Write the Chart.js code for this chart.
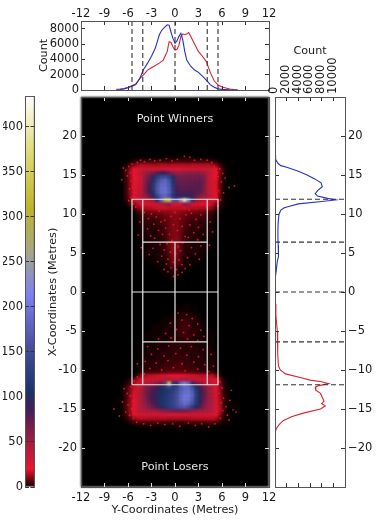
<!DOCTYPE html>
<html>
<head>
<meta charset="utf-8">
<title>Point winners and losers</title>
<script src="https://cdn.jsdelivr.net/npm/chart.js@4"></script>
<style>
  html, body { margin: 0; background: #fff; }
  #wrap { position: relative; width: 380px; height: 520px; overflow: hidden; filter: blur(0.3px); }
  canvas { position: absolute; left: 0; top: 0; }
  #heat { filter: blur(1px); }
</style>
</head>
<body>
<div id="wrap">
  <canvas id="colorbar" width="380" height="520"></canvas>
  <canvas id="topHist" width="380" height="520"></canvas>
  <canvas id="sideHist" width="380" height="520"></canvas>
  <canvas id="heat" width="380" height="520"></canvas>
  <canvas id="main" width="380" height="520"></canvas>
</div>
<script>
// tick values
const courtWidthTicks = [-12,-9,-6,-3,0,3,6,9,12];
const courtLengthTicks = [-20,-15,-10,-5,0,5,10,15,20];
const topCountTicks = [0,2000,4000,6000,8000];
const sideCountTicks = [0,2000,4000,6000,8000,10000];
const cbarTicks = [0,50,100,150,200,250,300,350,400];

// top histogram: count along the Y coordinate
const topBlueX = [-7.5,-7,-6.5,-6,-5.5,-5,-4.5,-4,-3.5,-3,-2.5,-2,-1.75,-1.5,-1,-0.75,-0.5,-0.25,0,0.25,0.5,0.75,1,1.25,1.5,2,2.5,3,3.5,4,4.5,5,5.5,6,7,8];
const topBlueCount = [0,60,150,300,500,700,1500,2700,3500,4400,5500,7200,7700,8000,8500,8450,7500,6700,6100,6400,7000,7400,6500,5000,3900,3100,2600,2300,1800,1300,700,350,150,80,20,0];
const topRedX = [-7.5,-7,-6.5,-6,-5.5,-5,-4.5,-4,-3.5,-3,-2.5,-2,-1.5,-1,-0.75,-0.5,-0.25,0,0.25,0.5,0.75,1,1.25,1.5,1.75,2,2.5,3,3.5,4,4.5,5,5.5,6,6.5,7,7.5,8];
const topRedCount = [100,130,200,350,550,800,1500,2000,2600,2900,3200,3500,3900,5000,6300,6200,5600,5200,5300,5800,7000,7300,7250,7300,7500,7000,6000,5000,4400,3700,2300,1200,650,400,250,120,60,20];

// side histogram: count along the X coordinate
const sideBlueY = [17.5,17,16.5,16.2,16,15.5,15,14.5,14,13.5,13,12.6,12.3,12,11.8,11.6,11.3,11,10.8,10.5,10,9,8,7,6,5,4.5,4,3,2,1.5];
const sideBlueCount = [0,100,500,1000,2000,3900,5500,6800,7900,8100,7300,6900,7300,9000,10400,8000,4000,2500,1600,1000,700,550,500,500,550,600,580,400,250,80,0];
const sideRedY = [-1.5,-3,-5,-6,-8,-9.5,-10,-10.5,-11,-11.3,-11.5,-11.75,-12,-12.2,-12.6,-13,-13.5,-14,-14.3,-14.6,-15,-15.5,-16,-16.5,-17,-17.5,-18];
const sideRedCount = [0,150,400,450,480,600,900,1800,4500,6000,8000,9200,7500,6900,7000,7800,8100,8400,8000,8600,7800,5000,2800,1400,700,250,0];

// court line positions in metres
const sidelineDoubles = 5.49;
const sidelineSingles = 4.115;
const baseline = 11.89;
const serviceLine = 6.4;

// dashed marks on the histograms
const topDashes = [-5.49,-4.115,0,4.115,5.49];
const sideDashes = [11.89,6.4,0,-6.4,-11.89];

// density grid: columns are Y coordinates, rows are X coordinates
const heatCols = [-7.75,-7.25,-6.75,-6.25,-5.75,-5.25,-4.75,-4.25,-3.75,-3.25,-2.75,-2.25,-1.75,-1.25,-0.75,-0.25,0.25,0.75,1.25,1.75,2.25,2.75,3.25,3.75,4.25,4.75,5.25,5.75,6.25,6.75,7.25,7.75];
const heatRows = [17.25,16.75,16.25,15.75,15.25,14.75,14.25,13.75,13.25,12.75,12.25,11.75,11.25,10.75,10.25,9.75,9.25,8.75,8.25,7.75,7.25,6.75,6.25,5.75,5.25,4.75,4.25,3.75,3.25,2.75,2.25,1.75,1.25,0.75,0.25,-0.25,-0.75,-1.25,-1.75,-2.25,-2.75,-3.25,-3.75,-4.25,-4.75,-5.25,-5.75,-6.25,-6.75,-7.25,-7.75,-8.25,-8.75,-9.25,-9.75,-10.25,-10.75,-11.25,-11.75,-12.25,-12.75,-13.25,-13.75,-14.25,-14.75,-15.25,-15.75,-16.25,-16.75,-17.25,-17.75];
const heatValues = [
  [0,0,0,0,0,0,0,0,0,0,0,0,0,1,1,1,0,1,2,2,1,0,0,0,0,0,0,0,0,0,0,0],
  [0,0,0,0,1,3,4,5,5,5,5,5,5,5,4,5,5,5,5,5,5,5,5,5,5,4,3,1,0,0,1,0],
  [0,0,0,1,6,10,14,16,15,15,14,14,15,15,14,15,15,15,15,15,16,16,16,16,16,14,10,5,1,0,0,0],
  [0,0,1,4,11,20,28,32,30,29,28,29,30,30,29,29,29,29,30,30,30,30,30,30,32,28,20,9,3,0,0,0],
  [0,0,1,5,12,22,28,40,52,60,64,80,88,88,74,62,58,58,58,58,58,58,58,56,42,30,21,9,2,1,0,0],
  [0,0,1,4,12,22,27,36,58,70,95,125,145,150,130,95,72,68,68,68,68,68,68,62,40,28,20,8,1,0,0,0],
  [0,0,1,4,11,21,26,36,62,78,110,150,175,185,160,110,75,72,72,72,72,72,72,64,38,26,19,8,1,0,0,0],
  [0,0,0,4,11,20,26,36,64,82,120,165,190,190,170,120,80,74,74,74,74,76,76,62,38,25,18,8,1,0,0,0],
  [0,0,0,4,11,20,26,36,64,84,125,170,195,200,175,125,82,76,76,76,76,76,76,62,38,25,19,8,1,0,0,0],
  [0,0,0,4,11,21,28,38,64,84,115,165,195,200,178,130,88,82,82,82,82,78,74,58,38,27,20,8,1,0,0,0],
  [0,0,0,4,11,21,30,38,52,70,95,140,175,185,160,120,95,95,95,95,82,68,56,46,36,28,20,8,1,0,0,0],
  [0,0,0,3,8,18,26,32,34,38,52,110,180,300,340,170,160,240,400,220,120,56,42,36,32,26,18,7,1,0,0,0],
  [0,0,0,1,5,11,16,20,22,24,26,30,38,52,60,32,26,32,60,48,28,24,22,22,20,16,11,4,1,0,0,0],
  [0,0,0,0,1,5,10,14,15,16,17,18,18,18,16,16,16,16,18,16,16,16,15,15,14,11,6,2,0,0,0,0],
  [0,0,0,0,0,1,4,7,8,9,9,10,10,11,11,12,12,11,10,9,9,9,8,7,6,5,2,1,0,0,0,0],
  [0,0,0,0,0,0,2,4,5,6,6,7,7,8,9,10,10,9,8,7,6,6,6,5,4,3,1,0,0,0,0,0],
  [0,0,0,0,0,0,1,3,4,4,4,5,6,7,8,10,10,8,7,6,5,5,4,4,3,2,1,0,0,0,0,0],
  [0,0,0,0,0,0,1,3,3,4,3,4,5,6,8,10,10,8,6,5,4,4,3,3,3,2,0,0,0,0,0,0],
  [0,0,0,0,0,0,1,2,3,3,3,3,4,5,8,10,10,8,5,4,3,4,3,3,2,1,0,0,0,0,0,0],
  [0,0,0,0,0,0,1,2,2,3,2,3,4,5,8,10,10,8,5,4,3,3,3,2,2,1,0,0,0,0,0,0],
  [0,0,0,0,0,0,0,2,2,3,2,3,3,5,8,10,10,8,4,3,3,3,2,2,2,1,0,0,0,0,0,0],
  [0,0,0,0,0,0,0,1,2,2,2,2,3,4,8,10,11,8,4,3,2,3,2,2,1,0,0,0,0,0,0,0],
  [0,0,0,0,0,0,0,1,2,2,2,2,3,4,8,11,11,7,3,3,2,2,2,2,1,0,0,0,0,0,0,0],
  [0,0,0,0,0,0,0,1,1,2,2,2,3,4,8,11,11,7,3,3,2,2,2,1,1,0,0,0,0,0,0,0],
  [0,0,0,0,0,0,0,1,1,2,1,2,2,4,7,11,10,6,3,2,2,2,2,1,1,0,0,0,0,0,0,0],
  [0,0,0,0,0,0,0,0,1,1,1,2,2,3,6,10,9,5,3,2,2,2,1,1,0,0,0,0,0,0,0,0],
  [0,0,0,0,0,0,0,0,1,1,1,1,2,3,5,9,8,5,2,2,1,1,1,0,0,0,0,0,0,0,0,0],
  [0,0,0,0,0,0,0,0,0,1,1,1,1,2,5,8,7,4,2,1,1,1,0,0,0,0,0,0,0,0,0,0],
  [0,0,0,0,0,0,0,0,0,0,0,1,1,2,4,5,5,3,2,1,1,0,0,0,0,0,0,0,0,0,0,0],
  [0,0,0,0,0,0,0,0,0,0,0,0,1,1,2,3,3,2,1,0,0,0,0,0,0,0,0,0,0,0,0,0],
  [0,0,0,0,0,0,0,0,0,0,0,0,0,1,1,2,2,1,0,0,0,0,0,0,0,0,0,0,0,0,0,0],
  [0,0,0,0,0,0,0,0,0,0,0,0,0,0,1,1,1,0,0,0,0,0,0,0,0,0,0,0,0,0,0,0],
  [0,0,0,0,0,0,0,0,0,0,0,0,0,0,0,0,0,0,0,0,0,0,0,0,0,0,0,0,0,0,0,0],
  [0,0,0,0,0,0,0,0,0,0,0,0,0,0,0,0,0,0,0,0,0,0,0,0,0,0,0,0,0,0,0,0],
  [0,0,0,0,0,0,0,0,0,0,0,0,0,0,0,0,0,0,0,0,0,0,0,0,0,0,0,0,0,0,0,0],
  [0,0,0,0,0,0,0,0,0,0,0,0,0,0,0,0,0,0,0,0,0,0,0,0,0,0,0,0,0,0,0,0],
  [0,0,0,0,0,0,0,0,0,0,0,0,0,0,0,0,0,0,0,0,0,0,0,0,0,0,0,0,0,0,0,0],
  [0,0,0,0,0,0,0,0,0,0,0,0,0,0,0,0,0,0,0,0,0,0,0,0,0,0,0,0,0,0,0,0],
  [0,0,0,0,0,0,0,0,0,0,0,0,0,0,0,0,1,0,1,1,0,0,0,0,0,0,0,0,0,0,0,0],
  [0,0,0,0,0,0,0,0,0,0,0,0,0,0,0,0,1,1,1,1,1,1,0,0,0,0,0,0,0,0,0,0],
  [0,0,0,0,0,0,0,0,0,0,0,0,0,0,0,1,1,2,2,2,1,1,1,0,0,0,0,0,0,0,0,0],
  [0,0,0,0,0,0,0,0,0,0,0,0,0,1,1,1,2,3,3,3,2,2,1,0,0,0,0,0,0,0,0,0],
  [0,0,0,0,0,0,0,0,0,0,0,0,1,1,1,2,3,4,4,4,3,2,1,1,0,0,0,0,0,0,0,0],
  [0,0,0,0,0,0,0,0,0,0,1,1,1,1,2,2,3,4,5,4,3,2,2,1,0,0,0,0,0,0,0,0],
  [0,0,0,0,0,0,0,0,0,0,1,1,1,2,2,2,3,4,5,5,3,3,2,1,1,0,0,0,0,0,0,0],
  [0,0,0,0,0,0,0,0,0,1,1,1,1,2,2,2,3,4,5,4,3,3,2,1,1,0,0,0,0,0,0,0],
  [0,0,0,0,0,0,0,0,1,1,1,1,2,2,2,3,3,4,4,4,3,2,2,1,1,1,0,0,0,0,0,0],
  [0,0,0,0,0,0,0,0,1,1,1,2,2,2,2,3,3,3,3,3,3,2,2,2,1,1,0,0,0,0,0,0],
  [0,0,0,0,0,0,0,1,1,1,2,2,2,2,2,3,3,3,3,3,3,2,2,2,1,1,0,0,0,0,0,0],
  [0,0,0,0,0,0,0,1,1,2,2,2,2,2,3,3,3,3,3,3,3,3,2,2,2,1,0,0,0,0,0,0],
  [0,0,0,0,0,0,0,1,2,2,2,2,3,3,3,3,4,3,3,3,3,3,2,2,2,1,1,0,0,0,0,0],
  [0,0,0,0,0,0,0,1,2,2,2,3,3,3,3,4,4,4,4,3,3,3,3,2,2,1,1,0,0,0,0,0],
  [0,0,0,0,0,0,0,1,2,2,3,3,3,3,4,4,4,4,4,4,3,3,3,2,2,2,1,0,0,0,0,0],
  [0,0,0,0,0,0,0,2,2,3,3,3,3,4,4,4,5,5,4,4,4,3,3,3,2,2,1,0,0,0,0,0],
  [0,0,0,0,0,0,1,2,3,3,3,4,4,5,5,5,5,5,5,5,4,4,3,3,3,2,1,0,0,0,0,0],
  [0,0,0,0,0,0,1,3,4,4,5,5,6,6,7,7,7,7,7,6,6,5,5,4,4,4,2,1,0,0,0,0],
  [0,0,0,0,0,1,5,12,15,17,17,18,19,19,20,20,20,20,20,19,19,18,17,17,16,16,10,3,0,0,0,0],
  [0,0,0,1,3,8,15,24,28,30,30,32,36,40,50,40,36,45,50,40,36,32,30,30,30,28,20,9,2,0,0,0],
  [0,0,0,2,5,12,26,36,38,42,48,58,68,150,350,120,110,190,230,190,110,68,56,46,40,34,22,11,3,0,0,0],
  [0,0,1,4,9,17,30,42,58,68,75,85,98,115,135,125,135,170,190,190,160,110,82,66,48,38,24,12,3,1,0,0],
  [0,0,1,4,10,18,32,44,62,74,84,94,104,112,120,130,150,178,195,200,175,125,90,72,52,40,25,13,3,1,0,0],
  [0,0,1,5,11,20,33,46,62,76,86,96,108,116,125,135,155,185,205,205,185,130,94,72,52,42,26,13,4,1,0,0],
  [0,1,1,5,11,21,33,46,60,76,86,96,110,118,125,135,155,185,205,200,175,125,94,70,52,42,28,14,4,1,0,0],
  [0,1,1,5,12,22,34,46,58,72,82,94,110,118,126,135,155,175,195,185,160,120,90,66,52,44,28,14,4,1,1,0],
  [0,0,1,5,12,23,35,46,54,62,72,84,98,110,122,130,145,158,168,152,125,100,78,60,50,44,30,15,4,1,1,0],
  [0,0,1,5,12,24,36,44,46,48,50,54,58,62,66,70,72,72,70,64,58,54,50,48,46,42,30,15,4,1,0,0],
  [0,0,1,4,10,20,28,29,28,27,27,27,27,27,27,28,28,28,28,28,28,28,28,28,28,28,24,12,3,1,0,0],
  [0,0,0,3,6,11,15,16,16,15,15,15,15,15,14,14,14,14,14,15,15,16,16,16,16,16,14,8,2,1,0,0],
  [0,0,0,1,2,4,5,5,5,5,5,5,5,5,4,4,4,4,4,5,5,5,5,5,6,6,5,3,1,1,0,0],
  [0,0,0,0,0,0,1,1,1,1,1,1,1,1,1,1,1,1,1,1,1,1,1,1,1,1,1,0,0,0,0,0],
  [0,0,0,0,0,0,0,0,0,1,0,0,1,0,0,0,0,1,0,0,1,0,0,1,0,0,0,0,0,0,0,0]
];

// single scattered shots outside the dense zones
const speckleX = [-6.3,-6.1,-5.9,-5.7,-5.6,-5.5,-5.4,-5.3,-5.2,-5.1,-6.6,-6.8,-5.8,-5.6,-5.9,-5.3,-5.0,-4.8,-4.4,-3.9,-3.2,-2.6,-1.9,-1.1,-0.4,0.3,1.2,1.9,2.5,3.3,4.1,4.7,5.0,5.3,5.5,5.7,5.9,5.2,5.6,5.3,5.8,5.5,6.1,6.4,6.9,6.2,7.6,-3.9,-3.4,-3.0,-2.7,-3.5,-2.4,-2.1,-1.8,-3.1,-2.6,-1.6,-1.9,-2.8,-1.4,-3.3,-1.7,-2.2,-1.1,-1.4,-0.9,2.1,2.7,3.3,1.9,3.0,2.4,3.6,1.7,2.9,3.3,2.1,2.6,1.6,3.1,1.9,1.3,0.9,4.5,-4.5,4.8,-4.7,4.4,-4.3,0.4,-0.2,0.4,1.5,0.9,2.2,-0.6,1.8,2.9,0.2,3.3,1.1,-1.2,2.4,3.7,-0.5,1.6,-2.1,2.9,-3.5,-2.2,-0.8,0.7,2.1,3.6,-3.0,-1.4,0.1,1.5,3.0,4.6,-3.8,-2.4,-0.9,0.9,2.4,3.8,-3.2,-1.7,-0.2,1.3,2.9,4.3,-3.9,4.9,-4.8,-4.8,-5.2,-5.6,-5.1,-5.7,-6.1,-5.4,-6.0,-5.5,-6.3,-5.8,-5.3,-6.7,-7.1,-6.5,-4.9,-4.0,-3.1,-2.2,-1.3,-0.3,0.6,1.7,2.6,3.4,4.3,5.1,5.7,6.0,5.6,6.2,5.9,6.5,6.1,6.7,5.8,7.0,7.4,7.8,6.9,7.2,-7.8,-1.2,-0.7,-0.2,0.3,0.9,1.3,-1.0,-0.4,0.4,1.0,-0.6,0.1,0.7,-0.9,-0.2,0.5,0.9,-0.5,0.2,-1.3,-0.5,0.6,1.4,-2.0,0.0,1.8];
const speckleY = [15.6,14.9,16.1,15.3,14.2,16.4,13.4,15.0,12.6,14.5,15.9,14.4,13.2,12.1,11.7,11.3,10.9,16.6,16.9,16.7,17.0,16.8,16.9,17.1,16.8,17.0,17.4,17.3,16.9,17.0,16.9,16.6,16.1,15.4,14.8,15.8,14.1,13.6,13.0,12.3,11.8,11.0,15.2,14.6,13.4,12.7,13.6,10.2,9.4,10.0,8.7,8.1,9.6,7.9,9.0,7.2,6.9,7.4,6.1,5.6,5.4,4.8,4.6,3.9,3.6,2.9,2.6,10.1,9.3,9.9,8.6,8.3,7.6,7.4,7.0,6.7,5.9,5.7,4.9,4.4,4.2,3.5,3.0,2.5,9.0,9.0,7.7,7.3,6.0,5.7,2.2,2.0,-2.7,-2.9,-3.6,-3.4,-4.0,-4.3,-4.1,-4.8,-4.9,-5.2,-5.3,-5.5,-5.7,-5.9,-6.0,-6.0,-6.2,-7.0,-7.3,-6.9,-7.2,-7.0,-7.4,-8.0,-8.2,-7.9,-8.1,-8.3,-8.0,-8.9,-9.1,-8.8,-9.2,-9.0,-9.3,-9.8,-10.0,-9.7,-10.1,-9.9,-10.2,-10.5,-9.5,-9.2,-10.9,-11.4,-12.1,-12.8,-13.3,-13.0,-14.0,-14.5,-15.0,-15.4,-15.8,-16.2,-14.1,-15.9,-12.4,-16.7,-16.9,-17.1,-16.8,-17.0,-16.9,-17.2,-16.8,-17.1,-16.9,-17.3,-16.9,-11.5,-12.3,-13.0,-13.6,-14.2,-14.7,-15.2,-15.8,-16.2,-13.9,-15.1,-15.4,-16.4,-12.6,-15.0,8.2,7.4,8.6,7.9,8.4,7.1,6.2,6.6,5.8,6.3,5.1,4.9,5.3,4.2,3.8,4.1,3.5,3.1,2.9,9.2,9.7,9.4,9.9,10.4,10.2,10.5];

// colour bar
const cmapStops = [0,8,20,50,85,105,150,215,260,310,370,435];
const cmapColors = [[0,0,0],[110,5,15],[235,20,45],[165,30,65],[70,30,85],[25,50,105],[65,75,150],[125,130,240],[165,165,135],[190,180,40],[222,216,115],[255,255,255]];
const cbarMax = 434;

const regionLabels = ['Point Winners', 'Point Losers'];
const regionLabelY = [22.2, -22.45];

const tickFont = { family: 'DejaVu Sans', size: 11.5 };
const titleFont = { family: 'DejaVu Sans', size: 11.2 };
const textColor = '#1a1a1a';
const spineColor = '#555';
const blueLine = '#2a2fc4';
const redLine = '#dc2430';

Chart.defaults.animation = false;
Chart.defaults.events = [];
Chart.defaults.font.family = 'DejaVu Sans';

function heatColor(v) {
  let i = 1;
  while (i < cmapStops.length - 1 && v > cmapStops[i]) i++;
  const t = Math.min(1, (v - cmapStops[i - 1]) / (cmapStops[i] - cmapStops[i - 1]));
  const a = cmapColors[i - 1], b = cmapColors[i];
  return 'rgb(' + a.map((c, k) => Math.round(c + (b[k] - c) * t)).join(',') + ')';
}

function xyPairs(xs, ys) {
  return xs.map((x, i) => ({ x: x, y: ys[i] }));
}

// linear axis with inward ticks and a fixed box size
function axis(position, min, max, values, o) {
  o = o || {};
  const horizontal = position === 'top' || position === 'bottom';
  const size = o.size || 0;
  return {
    type: 'linear',
    position: position,
    axis: horizontal ? 'x' : 'y',
    min: min,
    max: max,
    afterFit(s) {
      if (horizontal) s.height = size; else s.width = size;
    },
    afterBuildTicks(s) {
      s.ticks = values.map(v => ({ value: v }));
    },
    border: { color: o.spine || spineColor, width: 1, z: 3 },
    grid: { drawOnChartArea: false, tickLength: -4, color: o.tickColor || '#333', z: 2 },
    title: o.title ? { display: true, text: o.title, font: titleFont, color: textColor, padding: 0 } : { display: false },
    ticks: {
      display: !!o.labels,
      autoSkip: false,
      minRotation: o.rotate || 0,
      maxRotation: o.rotate || 0,
      padding: o.padding || 7,
      labelOffset: o.labelOffset || 0,
      font: tickFont,
      color: textColor,
      callback: o.format || (v => String(v))
    }
  };
}

// place the plot area at exact page pixels
function areaPadding(left, top, right, bottom, leftBox, topBox, rightBox, bottomBox) {
  return {
    left: left - (leftBox || 0),
    top: top - (topBox || 0),
    right: 380 - right - (rightBox || 0),
    bottom: 520 - bottom - (bottomBox || 0)
  };
}

function lineSet(points, color, width, dash) {
  return {
    data: points,
    showLine: true,
    borderColor: color,
    borderWidth: width,
    borderDash: dash || [],
    pointRadius: 0,
    spanGaps: false,
    tension: 0
  };
}

const basePlugins = { legend: { display: false }, tooltip: { enabled: false }, title: { display: false } };

// colour bar
new Chart(document.getElementById('colorbar'), {
  type: 'bar',
  data: {
    labels: ['count'],
    datasets: [{
      data: [[0, cbarMax]],
      barPercentage: 1,
      categoryPercentage: 1,
      borderColor: '#222',
      borderWidth: 1,
      borderSkipped: false,
      backgroundColor(ctx) {
        const area = ctx.chart.chartArea;
        if (!area) return '#888';
        const g = ctx.chart.ctx.createLinearGradient(0, area.bottom, 0, area.top);
        cmapStops.forEach((s, i) => g.addColorStop(s / 435, 'rgb(' + cmapColors[i].join(',') + ')'));
        return g;
      }
    }]
  },
  options: {
    responsive: false,
    layout: { padding: areaPadding(25, 96, 34.5, 487, 22, 0, 0, 0) },
    plugins: basePlugins,
    scales: {
      x: { display: false },
      y: axis('left', 0, cbarMax, cbarTicks, { size: 22, labels: true, padding: 6 }),
      y2: axis('right', 0, cbarMax, cbarTicks, {})
    }
  }
});

// top histogram
new Chart(document.getElementById('topHist'), {
  type: 'scatter',
  data: {
    datasets: topDashes.map(d => lineSet([{ x: d, y: 0 }, { x: d, y: 9000 }], '#333', 1.1, [5, 3])).concat([
      lineSet(xyPairs(topBlueX, topBlueCount), blueLine, 1.1),
      lineSet(xyPairs(topRedX, topRedCount), redLine, 1.1)
    ])
  },
  options: {
    responsive: false,
    layout: { padding: areaPadding(81, 21, 269, 90, 44, 16, 0, 0) },
    plugins: basePlugins,
    scales: {
      x: axis('top', -12, 12, courtWidthTicks, { size: 16, labels: true, padding: 4 }),
      x2: axis('bottom', -12, 12, courtWidthTicks, {}),
      y: axis('left', 0, 9000, topCountTicks, { size: 44, labels: true, title: 'Count', padding: 6 }),
      y2: axis('right', 0, 9000, topCountTicks, {})
    }
  }
});

// side histogram
new Chart(document.getElementById('sideHist'), {
  type: 'scatter',
  data: {
    datasets: sideDashes.map(d => lineSet([{ x: 0, y: d }, { x: 12000, y: d }], '#333', 1.1, [5, 3])).concat([
      lineSet(xyPairs(sideBlueCount, sideBlueY), blueLine, 1.1),
      lineSet(xyPairs(sideRedCount, sideRedY), redLine, 1.1)
    ])
  },
  options: {
    responsive: false,
    layout: { padding: areaPadding(275, 97, 345, 487, 0, 53, 28, 0) },
    plugins: basePlugins,
    scales: {
      x: axis('top', 0, 12000, sideCountTicks, { size: 53, labels: true, rotate: 90, title: 'Count', padding: 7, labelOffset: 13 }),
      x2: axis('bottom', 0, 12000, sideCountTicks, {}),
      y: axis('left', -25, 25, courtLengthTicks, {}),
      y2: axis('right', -25, 25, courtLengthTicks, { size: 28, labels: true, format: v => String(v).replace('-', '\u2212') })
    }
  }
});

// density grid
const heatPoints = [];
heatRows.forEach((y, r) => {
  heatCols.forEach((x, c) => {
    if (heatValues[r][c] > 0) heatPoints.push({ x: x, y: y, v: heatValues[r][c] });
  });
});

new Chart(document.getElementById('heat'), {
  type: 'scatter',
  data: {
    datasets: [{
      data: heatPoints,
      pointStyle: 'rect',
      pointRadius: 2.9,
      pointBorderWidth: 0,
      pointBackgroundColor: ctx => heatColor(ctx.raw ? ctx.raw.v : 0)
    }]
  },
  options: {
    responsive: false,
    layout: { padding: areaPadding(81, 97, 269, 487) },
    plugins: basePlugins,
    scales: {
      x: { type: 'linear', display: false, min: -12, max: 12 },
      y: { type: 'linear', display: false, min: -25, max: 25 }
    }
  },
  plugins: [{
    id: 'blackPanel',
    beforeDatasetsDraw(chart) {
      const a = chart.chartArea;
      chart.ctx.save();
      chart.ctx.fillStyle = '#000';
      chart.ctx.fillRect(a.left, a.top, a.width, a.height);
      chart.ctx.restore();
    }
  }]
});

// court lines, axes and region names on top of the density
const sd = sidelineDoubles, ss = sidelineSingles, bl = baseline, sv = serviceLine;
const courtLines = [
  [{ x: -sd, y: -bl }, { x: sd, y: -bl }, { x: sd, y: bl }, { x: -sd, y: bl }, { x: -sd, y: -bl }],
  [{ x: -ss, y: -bl }, { x: -ss, y: bl }],
  [{ x: ss, y: -bl }, { x: ss, y: bl }],
  [{ x: -ss, y: sv }, { x: ss, y: sv }],
  [{ x: -ss, y: -sv }, { x: ss, y: -sv }],
  [{ x: 0, y: -sv }, { x: 0, y: sv }],
  [{ x: -sd, y: 0 }, { x: sd, y: 0 }]
];

new Chart(document.getElementById('main'), {
  type: 'scatter',
  data: {
    datasets: courtLines.map(l => lineSet(l, '#e6e6e6', 1.2)).concat([{
      data: xyPairs(speckleX, speckleY),
      pointRadius: 0.9,
      pointBorderWidth: 0,
      pointBackgroundColor: 'rgba(230,25,50,0.9)'
    }])
  },
  options: {
    responsive: false,
    layout: { padding: areaPadding(81, 97, 269, 487, 35, 0, 0, 30) },
    plugins: basePlugins,
    scales: {
      x: axis('bottom', -12, 12, courtWidthTicks, { size: 30, labels: true, title: 'Y-Coordinates (Metres)', tickColor: '#ddd', padding: 8 }),
      x2: axis('top', -12, 12, courtWidthTicks, { tickColor: '#ddd' }),
      y: axis('left', -25, 25, courtLengthTicks, { size: 35, labels: true, title: 'X-Coordinates (Metres)', tickColor: '#ddd', padding: 8 }),
      y2: axis('right', -25, 25, courtLengthTicks, { tickColor: '#ddd' })
    }
  },
  plugins: [{
    id: 'regionNames',
    afterDatasetsDraw(chart) {
      const c = chart.ctx;
      c.save();
      c.fillStyle = '#e4e4e4';
      c.font = '11.2px "DejaVu Sans"';
      c.textAlign = 'center';
      c.textBaseline = 'middle';
      regionLabels.forEach((t, i) => {
        c.fillText(t, chart.scales.x.getPixelForValue(0), chart.scales.y.getPixelForValue(regionLabelY[i]));
      });
      c.restore();
    }
  }]
});
</script>
</body>
</html>
